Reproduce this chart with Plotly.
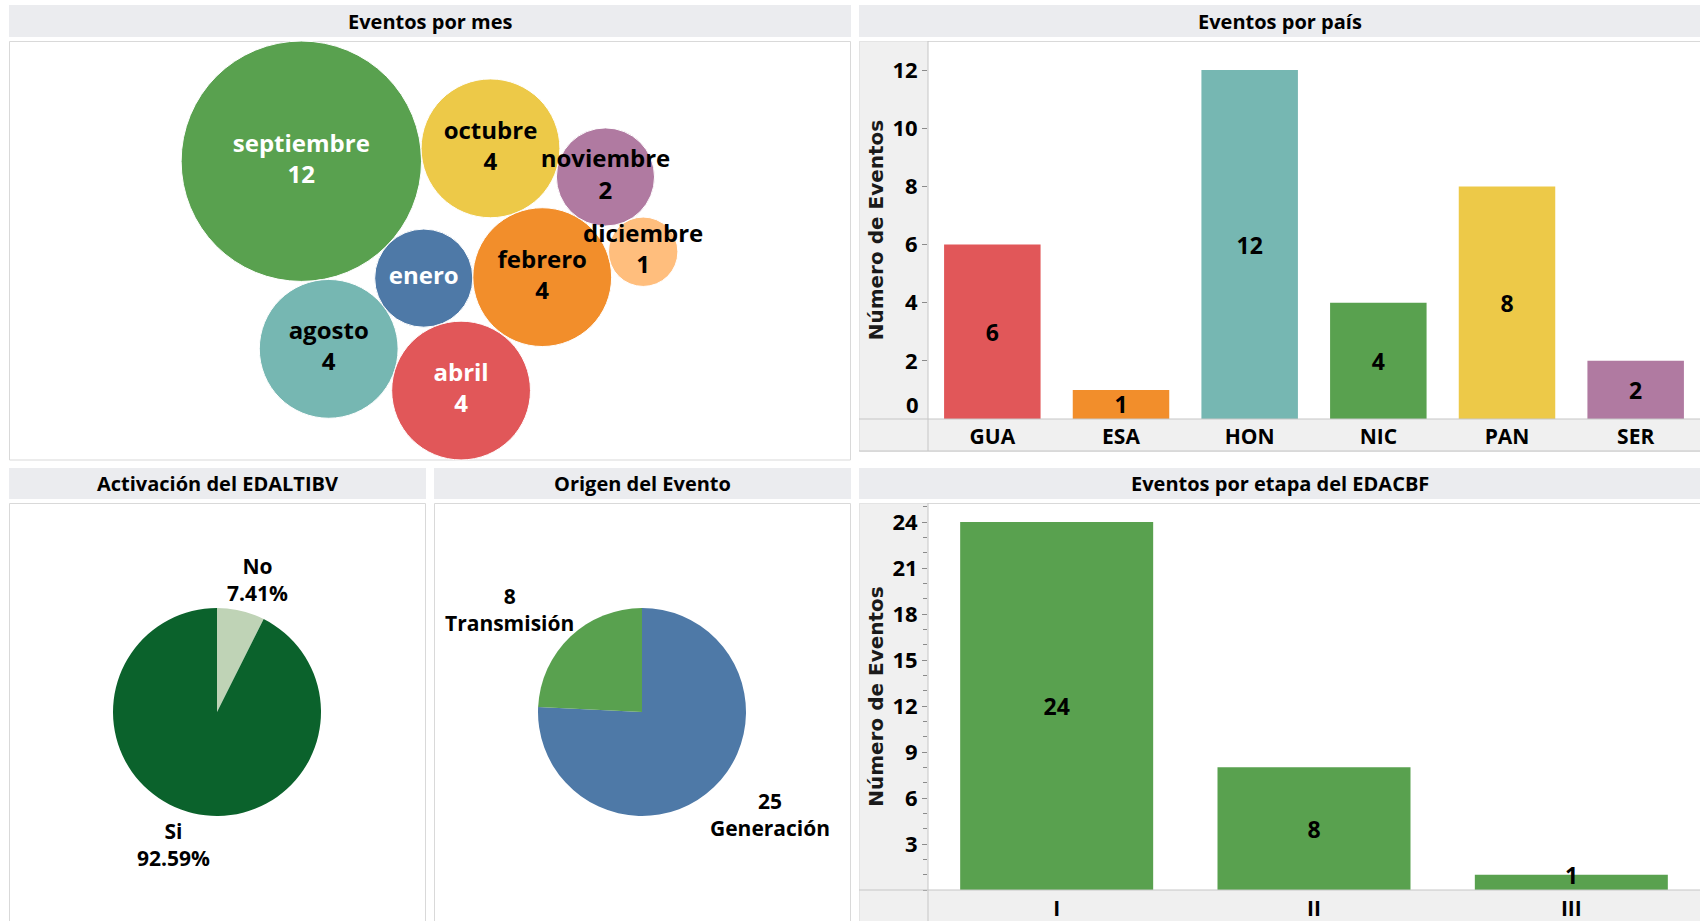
import math
import plotly.graph_objects as go

W, H = 1700, 921

# ---------------- data ----------------
month_names = ["septiembre", "octubre", "agosto", "enero", "abril", "febrero", "noviembre", "diciembre"]
month_events = [12, 4, 4, 2, 4, 4, 2, 1]

countries = ["GUA", "ESA", "HON", "NIC", "PAN", "SER"]
country_events = [6, 1, 12, 4, 8, 2]

activation_labels = ["No", "Si"]
activation_values = [2, 25]

origin_labels = ["Generación", "Transmisión"]
origin_values = [25, 8]

stages = ["I", "II", "III"]
stage_events = [24, 8, 1]

# ---------------- styles ----------------
FONT = "Open Sans"
AXIS_TITLE_FONT = "DejaVu Sans"
TITLE_BAND = "#EBECEF"
BORDER = "#D9D9D9"
AXIS_BAND = "#F0F0F0"
AXIS_LINE = "#C6C6C6"
LABEL_SIZE = 23
PIE_LABEL_SIZE = 21

month_colors = {
    "septiembre": "#59A14F", "octubre": "#EDC948", "agosto": "#76B7B2",
    "enero": "#4E79A7", "abril": "#E15759", "febrero": "#F28E2B",
    "noviembre": "#B07AA1", "diciembre": "#FFBE7D",
}
month_text_colors = {"septiembre": "white", "enero": "white", "abril": "white"}
hide_value = {"enero"}
country_colors = ["#E15759", "#F28E2B", "#76B7B2", "#59A14F", "#EDC948", "#B07AA1"]
stage_color = "#59A14F"
activation_colors = ["#BFD3B6", "#0B622C"]
origin_colors = ["#4E79A7", "#59A14F"]


def px_x(x):
    return x / W


def px_y(y):
    return 1 - y / H


annotations = []

# ---------------- packed bubbles ----------------
R_UNIT = 34.7  # pixel radius of a one-event bubble
radius = {m: R_UNIT * math.sqrt(v) for m, v in zip(month_names, month_events)}
centers = {"septiembre": (0.0, 0.0)}


def touching(anchor, name, angle_deg):
    ax, ay = centers[anchor]
    d = radius[anchor] + radius[name]
    a = math.radians(angle_deg)
    return ax + d * math.cos(a), ay + d * math.sin(a)


def tangent_to(a, b, name, side):
    (ax, ay), ra = centers[a], radius[a]
    (bx, by), rb = centers[b], radius[b]
    r = radius[name]
    dx, dy = bx - ax, by - ay
    d = math.hypot(dx, dy)
    da, db = ra + r, rb + r
    along = (da * da - db * db + d * d) / (2 * d)
    h = math.sqrt(max(da * da - along * along, 0.0))
    px, py = ax + along * dx / d, ay + along * dy / d
    return px + side * h * (-dy) / d, py + side * h * dx / d


centers["octubre"] = touching("septiembre", "octubre", -3.9)
centers["agosto"] = touching("septiembre", "agosto", 81.7)
centers["enero"] = tangent_to("septiembre", "agosto", "enero", -1)
centers["abril"] = tangent_to("agosto", "enero", "abril", 1)
centers["febrero"] = tangent_to("octubre", "enero", "febrero", -1)
centers["noviembre"] = tangent_to("octubre", "febrero", "noviembre", -1)
centers["diciembre"] = tangent_to("noviembre", "febrero", "diciembre", -1)

# pane of the bubble view, in pixels
PANE_X0, PANE_X1, PANE_Y0, PANE_Y1 = 9, 850, 41, 460
pane_w, pane_h = PANE_X1 - PANE_X0, PANE_Y1 - PANE_Y0
xmin = min(centers[m][0] - radius[m] for m in month_names)
xmax = max(centers[m][0] + radius[m] for m in month_names)
ymin = min(centers[m][1] - radius[m] for m in month_names)
ymax = max(centers[m][1] + radius[m] for m in month_names)
off_x = pane_w / 2 - (xmin + xmax) / 2
off_y = pane_h / 2 - (ymin + ymax) / 2

bx = [centers[m][0] + off_x for m in month_names]
by = [centers[m][1] + off_y for m in month_names]
bsize = [2 * radius[m] for m in month_names]
btext = [m if m in hide_value else f"{m}<br>{v}" for m, v in zip(month_names, month_events)]

fig = go.Figure()

fig.add_trace(go.Scatter(
    x=bx, y=by, mode="markers+text", text=btext, textposition="middle center",
    textfont=dict(family=FONT, size=24, weight=700,
                  color=[month_text_colors.get(m, "black") for m in month_names]),
    marker=dict(size=bsize, sizemode="diameter", color=[month_colors[m] for m in month_names],
                opacity=1, line=dict(width=1, color="white")),
    hoverinfo="skip", xaxis="x", yaxis="y", cliponaxis=False,
))


# ---------------- bar views ----------------
def add_bars(cats, vals, colors, xa, ya, px_per_unit):
    # values whose bar is too short to hold the label are written on the bar top
    fits = [v * px_per_unit >= LABEL_SIZE * 1.15 for v in vals]
    fig.add_trace(go.Bar(
        x=cats, y=vals, marker=dict(color=colors, line=dict(width=0)),
        text=[str(v) if f else "" for v, f in zip(vals, fits)],
        textposition="inside", insidetextanchor="middle", textangle=0, constraintext="none",
        textfont=dict(family=FONT, size=LABEL_SIZE, weight=700, color="black"),
        xaxis=xa, yaxis=ya, hoverinfo="skip", cliponaxis=False,
    ))
    for c, v, f in zip(cats, vals, fits):
        if not f:
            annotations.append(dict(
                text=str(v), x=c, y=v, xref=xa, yref=ya, showarrow=False,
                xanchor="center", yanchor="middle",
                font=dict(family=FONT, size=LABEL_SIZE, weight=700, color="black"),
            ))


COUNTRY_TOP, COUNTRY_BASE, COUNTRY_MAX = 41, 419, 13
STAGE_TOP, STAGE_BASE, STAGE_MAX = 503, 890, 25.24
add_bars(countries, country_events, country_colors, "x2", "y2",
         (COUNTRY_BASE - COUNTRY_TOP) / COUNTRY_MAX)
add_bars(stages, stage_events, stage_color, "x3", "y3",
         (STAGE_BASE - STAGE_TOP) / STAGE_MAX)

# ---------------- pies ----------------
PIE_R = 104
PIE_CY = 712


def pie_labels(labels, values, cx, fmt):
    total = sum(values)
    start = 0.0
    for lab, v in zip(labels, values):
        span = 360.0 * v / total
        mid = math.radians(start + span / 2)
        start += span
        dx, dy = math.sin(mid), -math.cos(mid)
        lines = fmt(lab, v, total)
        w = 0.6 * PIE_LABEL_SIZE * max(len(s) for s in lines)
        h = 1.3 * PIE_LABEL_SIZE * len(lines)
        reach = PIE_R + 5
        x = cx + reach * dx + math.copysign(math.sqrt(abs(dx)), dx) * w / 2
        y = PIE_CY + reach * dy + math.copysign(math.sqrt(abs(dy)), dy) * h / 2
        annotations.append(dict(
            text="<br>".join(lines), xref="paper", yref="paper", x=px_x(x), y=px_y(y),
            showarrow=False, xanchor="center", yanchor="middle", align="center",
            font=dict(family=FONT, size=PIE_LABEL_SIZE, weight=700, color="black"),
        ))


for labels, values, colors, cx, fmt in [
    (activation_labels, activation_values, activation_colors, 217,
     lambda lab, v, t: [lab, f"{v / t:.2%}"]),
    (origin_labels, origin_values, origin_colors, 642,
     lambda lab, v, t: [str(v), lab]),
]:
    fig.add_trace(go.Pie(
        labels=labels, values=values, sort=False, direction="clockwise", rotation=0,
        marker=dict(colors=colors, line=dict(width=0)), textinfo="none",
        domain=dict(x=[px_x(cx - PIE_R), px_x(cx + PIE_R)],
                    y=[px_y(PIE_CY + PIE_R), px_y(PIE_CY - PIE_R)]),
        showlegend=False, hoverinfo="skip",
    ))
    pie_labels(labels, values, cx, fmt)

# ---------------- panel frames ----------------
shapes = []


def rect(x0, y0, x1, y1, fill=None, line=None, layer="below"):
    shapes.append(dict(
        type="rect", xref="paper", yref="paper", layer=layer,
        x0=px_x(x0), x1=px_x(x1), y0=px_y(y1), y1=px_y(y0),
        fillcolor=fill or "rgba(0,0,0,0)",
        line=dict(width=1 if line else 0, color=line or "rgba(0,0,0,0)"),
    ))


def hline(x0, x1, y, color=AXIS_LINE, layer="above"):
    shapes.append(dict(type="line", xref="paper", yref="paper", layer=layer,
                       x0=px_x(x0), x1=px_x(x1), y0=px_y(y), y1=px_y(y),
                       line=dict(width=1, color=color)))


def vline(x, y0, y1, color=AXIS_LINE, layer="above"):
    shapes.append(dict(type="line", xref="paper", yref="paper", layer=layer,
                       x0=px_x(x), x1=px_x(x), y0=px_y(y0), y1=px_y(y1),
                       line=dict(width=1, color=color)))


panels = [
    ("Eventos por mes", 9, 851, 5, 37, 41, 460),
    ("Eventos por país", 859, 1701, 5, 37, 41, 451),
    ("Activación del EDALTIBV", 9, 426, 468, 499, 503, 925),
    ("Origen del Evento", 434, 851, 468, 499, 503, 925),
    ("Eventos por etapa del EDACBF", 859, 1701, 468, 499, 503, 925),
]
for title, x0, x1, ty0, ty1, by0, by1 in panels:
    rect(x0, ty0, x1, ty1, fill=TITLE_BAND)
    rect(x0 + 0.5, by0 + 0.5, x1 - 0.5, by1, line=BORDER)
    annotations.append(dict(
        text=title, xref="paper", yref="paper", x=px_x((x0 + min(x1, W)) / 2), y=px_y((ty0 + ty1) / 2),
        showarrow=False, xanchor="center", yanchor="middle",
        font=dict(family=FONT, size=20, weight=700, color="black"),
    ))

# axis column and category band for the two bar views
for top, base, bottom in [(COUNTRY_TOP, COUNTRY_BASE, 451), (STAGE_TOP, STAGE_BASE, 925)]:
    rect(859.5, top + 0.5, 928, base, fill=AXIS_BAND)
    rect(859.5, base, 1701, bottom, fill=AXIS_BAND)
    hline(859, 1701, base)
    hline(859, 1701, bottom)
    vline(928, top, bottom)

# zero label of the country axis sits just above the baseline
annotations.append(dict(
    text="0", xref="paper", yref="y2", x=px_x(921), y=0, yshift=15,
    showarrow=False, xanchor="right", yanchor="middle",
    font=dict(family=FONT, size=22, weight=700, color="black"),
))

tickfont = dict(family=FONT, size=22, weight=700, color="black")
catfont = dict(family=FONT, size=21, weight=700, color="black")
axis_title = dict(text="Número de Eventos", standoff=3,
                  font=dict(family=AXIS_TITLE_FONT, size=20, weight=700, color="#1a1a1a"))

fig.update_layout(
    width=W, height=H, margin=dict(l=0, r=0, t=0, b=0),
    paper_bgcolor="white", plot_bgcolor="rgba(0,0,0,0)",
    showlegend=False, bargap=0.25,
    font=dict(family=FONT, color="black"),
    shapes=shapes, annotations=annotations,
    xaxis=dict(domain=[px_x(PANE_X0), px_x(PANE_X1)], range=[0, pane_w], visible=False, fixedrange=True),
    yaxis=dict(domain=[px_y(PANE_Y1), px_y(PANE_Y0)], range=[pane_h, 0], visible=False, fixedrange=True),
    xaxis2=dict(domain=[px_x(928), 1], anchor="y2", showgrid=False, zeroline=False, showline=False,
                ticks="", tickfont=catfont, ticklabelstandoff=3, fixedrange=True),
    yaxis2=dict(domain=[px_y(COUNTRY_BASE), px_y(COUNTRY_TOP)], anchor="x2", range=[0, COUNTRY_MAX],
                tickvals=[2, 4, 6, 8, 10, 12], ticks="outside", ticklen=5, tickcolor="#8a8a8a",
                showgrid=False, zeroline=False, showline=False, tickfont=tickfont,
                title=axis_title, fixedrange=True),
    xaxis3=dict(domain=[px_x(928), 1], anchor="y3", showgrid=False, zeroline=False, showline=False,
                ticks="", tickfont=catfont, ticklabelstandoff=4, fixedrange=True),
    yaxis3=dict(domain=[px_y(STAGE_BASE), px_y(STAGE_TOP)], anchor="x3", range=[0, STAGE_MAX],
                tickvals=[3, 6, 9, 12, 15, 18, 21, 24], ticks="outside", ticklen=5, tickcolor="#8a8a8a",
                minor=dict(dtick=1, tick0=0, ticks="outside", ticklen=4, tickcolor="#8a8a8a"),
                showgrid=False, zeroline=False, showline=False, tickfont=tickfont,
                title=axis_title, fixedrange=True),
)

fig.write_html("out.html")
